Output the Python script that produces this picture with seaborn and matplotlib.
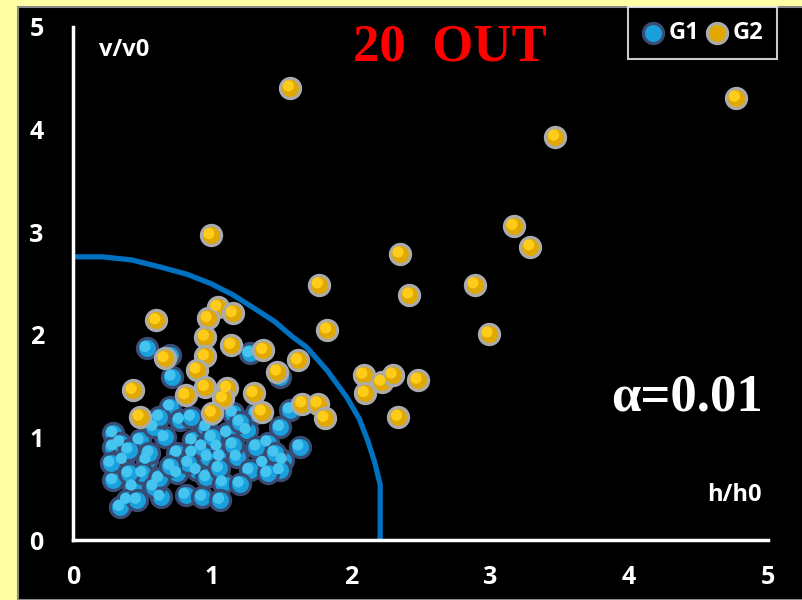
import numpy as np
import pandas as pd
import seaborn as sns
import matplotlib.pyplot as plt
from matplotlib.patches import Rectangle
from matplotlib.transforms import offset_copy

# Data
g1_x = [0.53, 0.70, 0.71, 1.27, 1.49, 0.70, 0.77, 1.15, 1.56, 0.29, 0.29, 0.48, 0.66, 0.86,
        1.04, 1.25, 1.40, 1.63, 0.36, 0.53, 0.75, 0.86, 1.06, 1.18, 1.37, 1.51, 0.29, 0.43,
        0.75, 0.89, 0.96, 1.08, 1.27, 1.49, 0.39, 0.63, 0.81, 0.93, 1.06, 1.40, 0.58, 0.96,
        1.11, 0.50, 0.34, 0.46, 1.32, 1.49, 0.34, 0.27, 0.58, 0.83, 0.97, 0.93, 1.32, 0.55,
        0.40, 0.62, 1.20, 1.15, 0.70, 1.00, 0.40, 1.20, 1.45, 0.85, 0.62, 1.05]
g1_y = [1.87, 1.80, 1.59, 1.82, 1.59, 1.30, 1.17, 1.24, 1.27, 1.04, 0.91, 0.97, 1.00, 0.97,
        0.91, 1.07, 0.95, 0.91, 0.78, 0.78, 0.85, 0.85, 0.81, 0.81, 0.75, 0.78, 0.58, 0.52,
        0.65, 0.68, 0.61, 0.56, 0.68, 0.68, 0.39, 0.42, 0.44, 0.42, 0.39, 0.65, 1.10, 1.10,
        1.04, 0.65, 0.32, 0.39, 0.91, 1.10, 0.95, 0.75, 0.52, 0.75, 0.81, 0.91, 1.24, 0.85,
        0.65, 0.60, 0.55, 0.93, 0.72, 1.00, 0.88, 1.15, 0.85, 1.20, 1.20, 0.70]

g2_x = [1.56, 3.47, 4.77, 0.99, 3.17, 3.29, 2.35, 1.77, 2.89, 2.42, 0.60, 1.83, 2.99, 1.04,
        1.15, 0.97, 0.95, 1.14, 1.37, 0.66, 0.95, 0.89, 0.43, 0.81, 0.95, 1.11, 1.30, 1.08,
        1.00, 1.36, 0.48, 1.62, 1.47, 1.65, 1.76, 1.81, 2.09, 2.22, 2.30, 2.10, 2.48, 2.34]
g2_y = [4.41, 3.93, 4.31, 2.97, 3.06, 2.86, 2.79, 2.49, 2.49, 2.39, 2.14, 2.05, 2.01, 2.27,
        2.21, 2.16, 1.98, 1.90, 1.85, 1.77, 1.79, 1.66, 1.46, 1.41, 1.49, 1.48, 1.43, 1.38,
        1.24, 1.25, 1.20, 1.75, 1.64, 1.33, 1.33, 1.19, 1.61, 1.54, 1.61, 1.43, 1.56, 1.20]

# boundary curve
curve_x = [0.00, 0.21, 0.42, 0.63, 0.82, 0.99, 1.15, 1.29, 1.45, 1.58, 1.68, 1.83, 1.97, 2.06, 2.12, 2.17, 2.21, 2.21]
curve_y = [2.76, 2.76, 2.73, 2.66, 2.59, 2.50, 2.39, 2.27, 2.13, 1.98, 1.88, 1.65, 1.39, 1.18, 0.97, 0.76, 0.54, 0.00]

ticks = [0, 1, 2, 3, 4, 5]

df1 = pd.DataFrame({"h": g1_x, "v": g1_y})
df2 = pd.DataFrame({"h": g2_x, "v": g2_y})
df_curve = pd.DataFrame({"h": curve_x, "v": curve_y})

#~~~~~~~~~~~~~~~~~~~~~~~~~~
# Plot
#~~~~~~~~~~~~~~~~~~~~~~~~~~
sns.set_style("white")
plt.rcParams["font.family"] = ["Open Sans", "DejaVu Sans"]
plt.rcParams["font.weight"] = "bold"

fig = plt.figure(figsize=(8.03, 6.0), dpi=100)
fig.patch.set_facecolor("#ffffa6")
bg = Rectangle((18 / 803, 0), 1, (600 - 7) / 600, transform=fig.transFigure,
               facecolor="black", edgecolor="#8a8a8a", linewidth=1.5, zorder=-10)
fig.patches.append(bg)

ax = fig.add_axes([73 / 803, 60 / 600, 695 / 803, 513 / 600])
ax.set_facecolor("none")
ax.set_zorder(1)

# highlight offset for the "sphere" look
hl = offset_copy(ax.transData, fig=fig, x=-1.2, y=1.2, units="points")

sns.lineplot(data=df_curve, x="h", y="v", sort=False, estimator=None, color="#0070c0",
             linewidth=3.8, ax=ax, zorder=2)
sns.scatterplot(data=df1, x="h", y="v", color="#1aa0dc", edgecolor="#3a4c74", linewidth=2.3,
                s=210, ax=ax, zorder=3, label="G1")
sns.scatterplot(data=df1, x="h", y="v", color="#45c4f0", edgecolor="none", s=65,
                ax=ax, zorder=3, transform=hl, legend=False)
sns.scatterplot(data=df2, x="h", y="v", color="#e0a800", edgecolor="#ababab", linewidth=2.3,
                s=210, ax=ax, zorder=4, label="G2")
sns.scatterplot(data=df2, x="h", y="v", color="#ffcc1a", edgecolor="none", s=65,
                ax=ax, zorder=4, transform=hl, legend=False)

ax.set_xlim(0, 5)
ax.set_ylim(0, 5)
ax.set_xticks(ticks)
ax.set_yticks(ticks)
ax.set_xlabel("")
ax.set_ylabel("")

for side in ["top", "right"]:
    ax.spines[side].set_visible(False)
for side in ["left", "bottom"]:
    ax.spines[side].set_color("white")
    ax.spines[side].set_linewidth(2.5)

ax.tick_params(axis="both", colors="white", labelcolor="white", direction="out",
               length=6, width=2, labelsize=18)
ax.tick_params(axis="x", pad=12)
ax.tick_params(axis="y", pad=15)

# axis titles inside the plot
ax.text(0.37, 4.78, "v/v0", color="white", fontsize=17, fontweight="bold",
        ha="center", va="center")
ax.text(4.76, 0.44, "h/h0", color="white", fontsize=17, fontweight="bold",
        ha="center", va="center")

ax.text(2.71, 4.80, "20  OUT", color="#ff0000", fontsize=38, fontweight="bold",
        family="Liberation Serif", ha="center", va="center")
ax.text(4.42, 1.39, "\u03b1=0.01", color="white", fontsize=38, fontweight="bold",
        family="Liberation Serif", ha="center", va="center")

leg = ax.legend(loc="upper right", bbox_to_anchor=(777 / 803, (600 - 7) / 600),
                bbox_transform=fig.transFigure, borderaxespad=0, ncol=2, frameon=True,
                fancybox=False, handlelength=0.9, handletextpad=0.2, columnspacing=0.3,
                borderpad=0.6, markerscale=1.0, prop={"size": 17, "weight": "bold"})
leg.get_frame().set_facecolor("black")
leg.get_frame().set_edgecolor("white")
leg.get_frame().set_linewidth(1.5)
for t in leg.get_texts():
    t.set_color("white")

fig.savefig("out.png", dpi=100, facecolor=fig.get_facecolor())
